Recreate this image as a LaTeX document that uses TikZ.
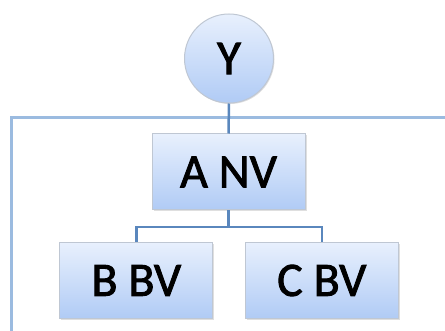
\documentclass[tikz,border=0pt]{standalone}
\usepackage{fontspec}
\setmainfont{Carlito}
\newfontfamily\labelfont{Carlito}[FakeBold=1.8]
\usetikzlibrary{shadows}
\definecolor{boxtop}{HTML}{E8F0FD}
\definecolor{boxbottom}{HTML}{B0CBF5}
\definecolor{boxedge}{HTML}{BFC7D3}
\definecolor{linkblue}{HTML}{5A87BD}
\definecolor{frameblue}{HTML}{9BBBE0}
\tikzset{
  unitbox/.style={draw=boxedge, line width=1pt, top color=boxtop, bottom color=boxbottom,
    minimum width=153pt, minimum height=76pt, inner sep=0pt,
    font=\labelfont\fontsize{48}{56}\selectfont,
    drop shadow={opacity=0.25, shadow xshift=1.5pt, shadow yshift=-1.5pt}},
  rootcircle/.style={circle, draw=boxedge, line width=1pt, top color=boxtop, bottom color=boxbottom,
    minimum size=89pt, inner sep=0pt, font=\labelfont\fontsize{49}{56}\selectfont,
    drop shadow={opacity=0.25, shadow xshift=1pt, shadow yshift=-1pt}},
  link/.style={draw=linkblue, line width=2.5pt},
  framing/.style={draw=frameblue, line width=3pt}
}
\begin{document}
\begin{tikzpicture}[x=1pt, y=-1pt]
\useasboundingbox (0,0) rectangle (445,331);
% outer frame, open to the right and bottom
\coordinate (frameR) at (446,118);
\coordinate (frameC) at (11,118);
\coordinate (frameB) at (11,332);
\draw[framing] (frameR) -- (frameC) -- (frameB);
% nodes
\node[rootcircle] (y) at (229,58.5) {Y};
\node[unitbox] (a) at (228.5,172) {A NV};
\node[unitbox] (b) at (136.3,280.5) {B BV};
\node[unitbox] (c) at (321.8,280.5) {C BV};
% connectors
\coordinate (split) at (228.5,227);
\draw[link] (y.south) -- (a.north);
\draw[link] (a.south) -- (split);
\draw[link] (split) -| (b.north);
\draw[link] (split) -| (c.north);
\end{tikzpicture}
\end{document}
